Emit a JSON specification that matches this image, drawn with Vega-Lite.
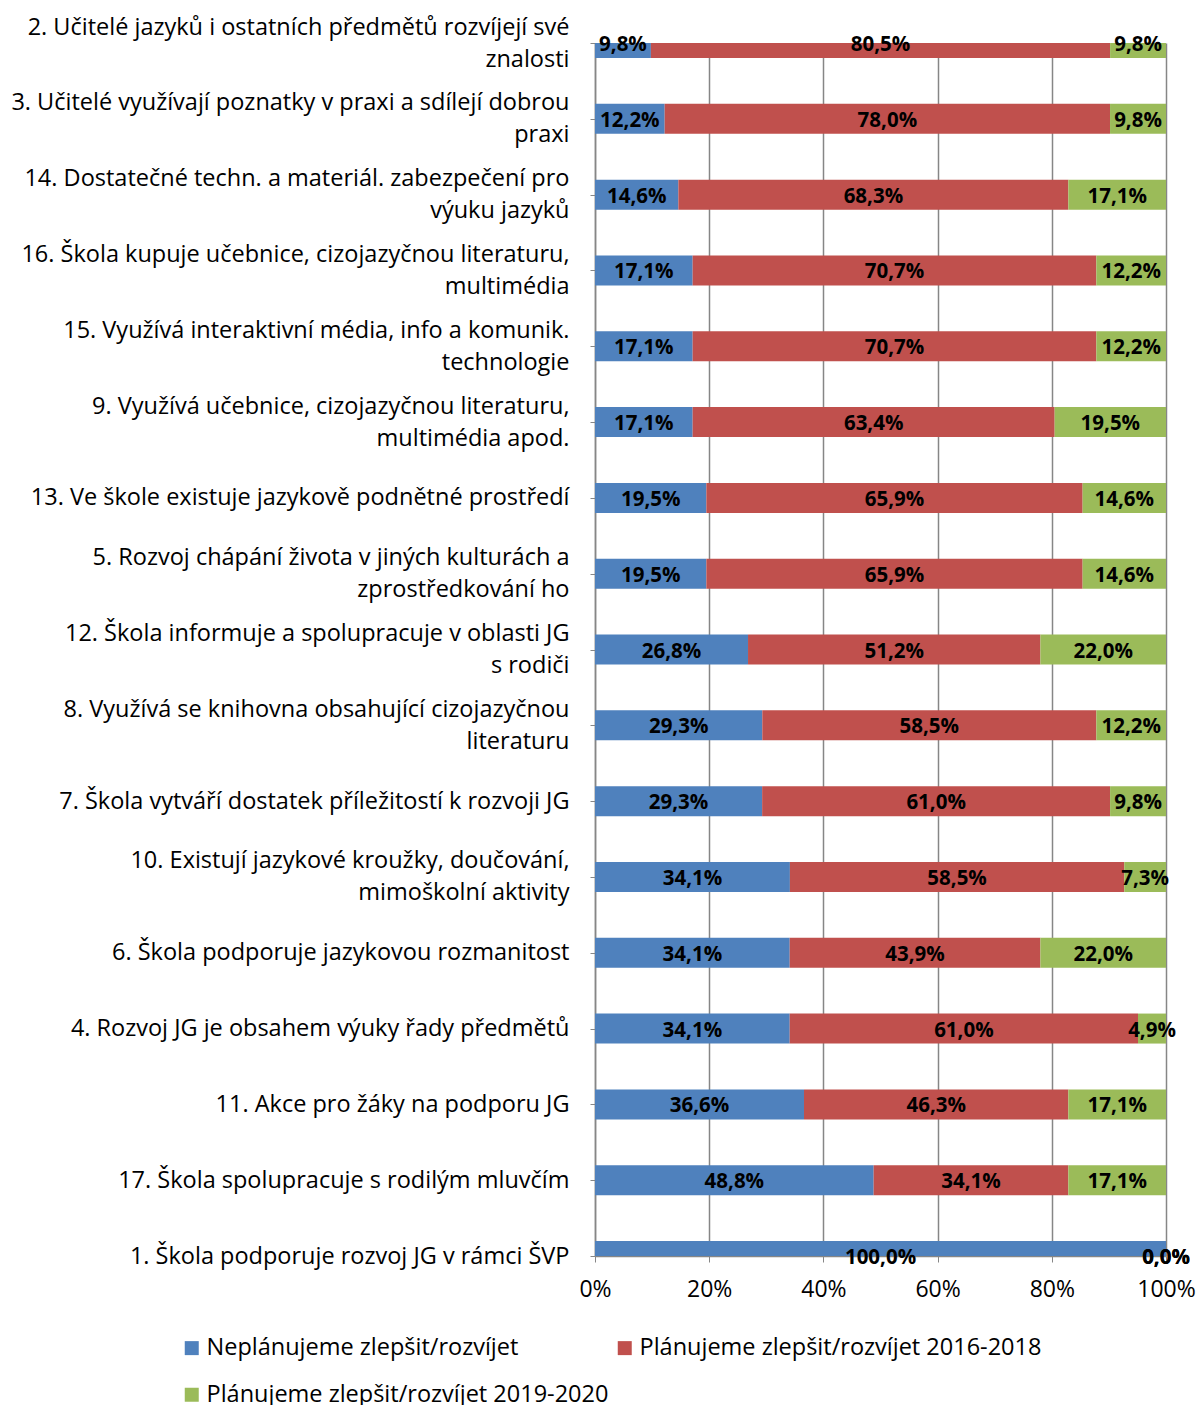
{
  "$schema": "https://vega.github.io/schema/vega-lite/v6.json",
  "autosize": {"type": "none"},
  "width": 571,
  "height": 1213,
  "padding": {"left": 595, "top": 43, "right": 30, "bottom": 149},
  "background": "white",
  "config": {
    "locale": {"number": {"decimal": ",", "thousands": " ", "grouping": [3], "currency": ["", " Kč"]}},
    "view": {"stroke": null},
    "font": "Open Sans"
  },
  "data": {"values": [
    {"kategorie": "2. Učitelé jazyků i ostatních předmětů rozvíjejí své|znalosti", "rada": "Neplánujeme zlepšit/rozvíjet", "hodnota": 0.098},
    {"kategorie": "2. Učitelé jazyků i ostatních předmětů rozvíjejí své|znalosti", "rada": "Plánujeme zlepšit/rozvíjet 2016-2018", "hodnota": 0.805},
    {"kategorie": "2. Učitelé jazyků i ostatních předmětů rozvíjejí své|znalosti", "rada": "Plánujeme zlepšit/rozvíjet 2019-2020", "hodnota": 0.098},
    {"kategorie": "3. Učitelé využívají poznatky v praxi a sdílejí dobrou|praxi", "rada": "Neplánujeme zlepšit/rozvíjet", "hodnota": 0.122},
    {"kategorie": "3. Učitelé využívají poznatky v praxi a sdílejí dobrou|praxi", "rada": "Plánujeme zlepšit/rozvíjet 2016-2018", "hodnota": 0.780},
    {"kategorie": "3. Učitelé využívají poznatky v praxi a sdílejí dobrou|praxi", "rada": "Plánujeme zlepšit/rozvíjet 2019-2020", "hodnota": 0.098},
    {"kategorie": "14. Dostatečné techn. a materiál. zabezpečení pro|výuku jazyků", "rada": "Neplánujeme zlepšit/rozvíjet", "hodnota": 0.146},
    {"kategorie": "14. Dostatečné techn. a materiál. zabezpečení pro|výuku jazyků", "rada": "Plánujeme zlepšit/rozvíjet 2016-2018", "hodnota": 0.683},
    {"kategorie": "14. Dostatečné techn. a materiál. zabezpečení pro|výuku jazyků", "rada": "Plánujeme zlepšit/rozvíjet 2019-2020", "hodnota": 0.171},
    {"kategorie": "16. Škola kupuje učebnice, cizojazyčnou literaturu,|multimédia", "rada": "Neplánujeme zlepšit/rozvíjet", "hodnota": 0.171},
    {"kategorie": "16. Škola kupuje učebnice, cizojazyčnou literaturu,|multimédia", "rada": "Plánujeme zlepšit/rozvíjet 2016-2018", "hodnota": 0.707},
    {"kategorie": "16. Škola kupuje učebnice, cizojazyčnou literaturu,|multimédia", "rada": "Plánujeme zlepšit/rozvíjet 2019-2020", "hodnota": 0.122},
    {"kategorie": "15. Využívá interaktivní média, info a komunik.|technologie", "rada": "Neplánujeme zlepšit/rozvíjet", "hodnota": 0.171},
    {"kategorie": "15. Využívá interaktivní média, info a komunik.|technologie", "rada": "Plánujeme zlepšit/rozvíjet 2016-2018", "hodnota": 0.707},
    {"kategorie": "15. Využívá interaktivní média, info a komunik.|technologie", "rada": "Plánujeme zlepšit/rozvíjet 2019-2020", "hodnota": 0.122},
    {"kategorie": "9. Využívá učebnice, cizojazyčnou literaturu,|multimédia apod.", "rada": "Neplánujeme zlepšit/rozvíjet", "hodnota": 0.171},
    {"kategorie": "9. Využívá učebnice, cizojazyčnou literaturu,|multimédia apod.", "rada": "Plánujeme zlepšit/rozvíjet 2016-2018", "hodnota": 0.634},
    {"kategorie": "9. Využívá učebnice, cizojazyčnou literaturu,|multimédia apod.", "rada": "Plánujeme zlepšit/rozvíjet 2019-2020", "hodnota": 0.195},
    {"kategorie": "13. Ve škole existuje jazykově podnětné prostředí", "rada": "Neplánujeme zlepšit/rozvíjet", "hodnota": 0.195},
    {"kategorie": "13. Ve škole existuje jazykově podnětné prostředí", "rada": "Plánujeme zlepšit/rozvíjet 2016-2018", "hodnota": 0.659},
    {"kategorie": "13. Ve škole existuje jazykově podnětné prostředí", "rada": "Plánujeme zlepšit/rozvíjet 2019-2020", "hodnota": 0.146},
    {"kategorie": "5. Rozvoj chápání života v jiných kulturách a|zprostředkování ho", "rada": "Neplánujeme zlepšit/rozvíjet", "hodnota": 0.195},
    {"kategorie": "5. Rozvoj chápání života v jiných kulturách a|zprostředkování ho", "rada": "Plánujeme zlepšit/rozvíjet 2016-2018", "hodnota": 0.659},
    {"kategorie": "5. Rozvoj chápání života v jiných kulturách a|zprostředkování ho", "rada": "Plánujeme zlepšit/rozvíjet 2019-2020", "hodnota": 0.146},
    {"kategorie": "12. Škola informuje a spolupracuje v oblasti JG|s rodiči", "rada": "Neplánujeme zlepšit/rozvíjet", "hodnota": 0.268},
    {"kategorie": "12. Škola informuje a spolupracuje v oblasti JG|s rodiči", "rada": "Plánujeme zlepšit/rozvíjet 2016-2018", "hodnota": 0.512},
    {"kategorie": "12. Škola informuje a spolupracuje v oblasti JG|s rodiči", "rada": "Plánujeme zlepšit/rozvíjet 2019-2020", "hodnota": 0.220},
    {"kategorie": "8. Využívá se knihovna obsahující cizojazyčnou|literaturu", "rada": "Neplánujeme zlepšit/rozvíjet", "hodnota": 0.293},
    {"kategorie": "8. Využívá se knihovna obsahující cizojazyčnou|literaturu", "rada": "Plánujeme zlepšit/rozvíjet 2016-2018", "hodnota": 0.585},
    {"kategorie": "8. Využívá se knihovna obsahující cizojazyčnou|literaturu", "rada": "Plánujeme zlepšit/rozvíjet 2019-2020", "hodnota": 0.122},
    {"kategorie": "7. Škola vytváří dostatek příležitostí k rozvoji JG", "rada": "Neplánujeme zlepšit/rozvíjet", "hodnota": 0.293},
    {"kategorie": "7. Škola vytváří dostatek příležitostí k rozvoji JG", "rada": "Plánujeme zlepšit/rozvíjet 2016-2018", "hodnota": 0.610},
    {"kategorie": "7. Škola vytváří dostatek příležitostí k rozvoji JG", "rada": "Plánujeme zlepšit/rozvíjet 2019-2020", "hodnota": 0.098},
    {"kategorie": "10. Existují jazykové kroužky, doučování,|mimoškolní aktivity", "rada": "Neplánujeme zlepšit/rozvíjet", "hodnota": 0.341},
    {"kategorie": "10. Existují jazykové kroužky, doučování,|mimoškolní aktivity", "rada": "Plánujeme zlepšit/rozvíjet 2016-2018", "hodnota": 0.585},
    {"kategorie": "10. Existují jazykové kroužky, doučování,|mimoškolní aktivity", "rada": "Plánujeme zlepšit/rozvíjet 2019-2020", "hodnota": 0.073},
    {"kategorie": "6. Škola podporuje jazykovou rozmanitost", "rada": "Neplánujeme zlepšit/rozvíjet", "hodnota": 0.341},
    {"kategorie": "6. Škola podporuje jazykovou rozmanitost", "rada": "Plánujeme zlepšit/rozvíjet 2016-2018", "hodnota": 0.439},
    {"kategorie": "6. Škola podporuje jazykovou rozmanitost", "rada": "Plánujeme zlepšit/rozvíjet 2019-2020", "hodnota": 0.220},
    {"kategorie": "4. Rozvoj JG je obsahem výuky řady předmětů", "rada": "Neplánujeme zlepšit/rozvíjet", "hodnota": 0.341},
    {"kategorie": "4. Rozvoj JG je obsahem výuky řady předmětů", "rada": "Plánujeme zlepšit/rozvíjet 2016-2018", "hodnota": 0.610},
    {"kategorie": "4. Rozvoj JG je obsahem výuky řady předmětů", "rada": "Plánujeme zlepšit/rozvíjet 2019-2020", "hodnota": 0.049},
    {"kategorie": "11. Akce pro žáky na podporu JG", "rada": "Neplánujeme zlepšit/rozvíjet", "hodnota": 0.366},
    {"kategorie": "11. Akce pro žáky na podporu JG", "rada": "Plánujeme zlepšit/rozvíjet 2016-2018", "hodnota": 0.463},
    {"kategorie": "11. Akce pro žáky na podporu JG", "rada": "Plánujeme zlepšit/rozvíjet 2019-2020", "hodnota": 0.171},
    {"kategorie": "17. Škola spolupracuje s rodilým mluvčím", "rada": "Neplánujeme zlepšit/rozvíjet", "hodnota": 0.488},
    {"kategorie": "17. Škola spolupracuje s rodilým mluvčím", "rada": "Plánujeme zlepšit/rozvíjet 2016-2018", "hodnota": 0.341},
    {"kategorie": "17. Škola spolupracuje s rodilým mluvčím", "rada": "Plánujeme zlepšit/rozvíjet 2019-2020", "hodnota": 0.171},
    {"kategorie": "1. Škola podporuje rozvoj JG v rámci ŠVP", "rada": "Neplánujeme zlepšit/rozvíjet", "hodnota": 1.0},
    {"kategorie": "1. Škola podporuje rozvoj JG v rámci ŠVP", "rada": "Plánujeme zlepšit/rozvíjet 2016-2018", "hodnota": 0.0},
    {"kategorie": "1. Škola podporuje rozvoj JG v rámci ŠVP", "rada": "Plánujeme zlepšit/rozvíjet 2019-2020", "hodnota": 0.0}
  ]},
  "transform": [
    {"joinaggregate": [{"op": "sum", "field": "hodnota", "as": "celkem"}], "groupby": ["kategorie"]},
    {"calculate": "datum.hodnota / datum.celkem", "as": "podil"},
    {"stack": "podil", "groupby": ["kategorie"], "sort": [{"field": "rada", "order": "ascending"}], "as": ["od", "do"]},
    {"calculate": "(datum.od + datum.do) / 2", "as": "stred"}
  ],
  "encoding": {
    "y": {
      "field": "kategorie",
      "type": "nominal",
      "sort": null,
      "scale": {"type": "point", "padding": 0},
      "axis": {
        "title": null,
        "labelExpr": "split(datum.label, '|')",
        "labelFont": "Open Sans",
        "labelFontSize": 23.5,
        "labelColor": "#000000",
        "labelAlign": "right",
        "labelBaseline": "middle",
        "labelLineHeight": 32,
        "labelOffset": {"condition": {"test": "indexof(datum.value, '|') >= 0", "value": -16}, "value": 0},
        "labelPadding": 21,
        "labelLimit": 0,
        "tickSize": 5,
        "tickColor": "#868686",
        "domainColor": "#868686",
        "domainWidth": 1.5,
        "grid": false
      }
    }
  },
  "layer": [
    {
      "mark": {"type": "bar", "size": 30, "clip": true},
      "encoding": {
        "x": {
          "field": "od",
          "type": "quantitative",
          "scale": {"domain": [0, 1], "nice": false},
          "axis": {
            "title": null,
            "format": ".0%",
            "values": [0, 0.2, 0.4, 0.6, 0.8, 1],
            "labelFont": "Open Sans",
            "labelFontSize": 23,
            "labelColor": "#000000",
            "labelFlush": false,
            "labelPadding": 16,
            "tickSize": 6,
            "tickColor": "#868686",
            "domainColor": "#868686",
            "domainWidth": 1.5,
            "grid": true,
            "gridColor": "#868686",
            "gridWidth": 1.5,
            "gridOpacity": 1
          }
        },
        "x2": {"field": "do"},
        "color": {
          "field": "rada",
          "type": "nominal",
          "scale": {
            "domain": ["Neplánujeme zlepšit/rozvíjet", "Plánujeme zlepšit/rozvíjet 2016-2018", "Plánujeme zlepšit/rozvíjet 2019-2020"],
            "range": ["#4F81BD", "#C0504D", "#9BBB59"]
          },
          "legend": {
            "title": null,
            "orient": "none",
            "legendX": -415,
            "legendY": 1293,
            "direction": "horizontal",
            "columns": 2,
            "columnPadding": 4,
            "rowPadding": 22,
            "symbolType": "square",
            "symbolSize": 196,
            "symbolStrokeWidth": 0,
            "labelFont": "Open Sans",
            "labelFontSize": 23.5,
            "labelColor": "#000000",
            "labelLimit": 0,
            "labelOffset": 3
          }
        }
      }
    },
    {
      "mark": {"type": "text", "font": "Open Sans", "fontSize": 20.5, "fontWeight": "bold", "color": "#000000", "align": "center", "baseline": "middle", "dy": 2},
      "encoding": {
        "x": {"field": "stred", "type": "quantitative"},
        "text": {"field": "hodnota", "type": "quantitative", "format": ".1%"}
      }
    }
  ]
}
